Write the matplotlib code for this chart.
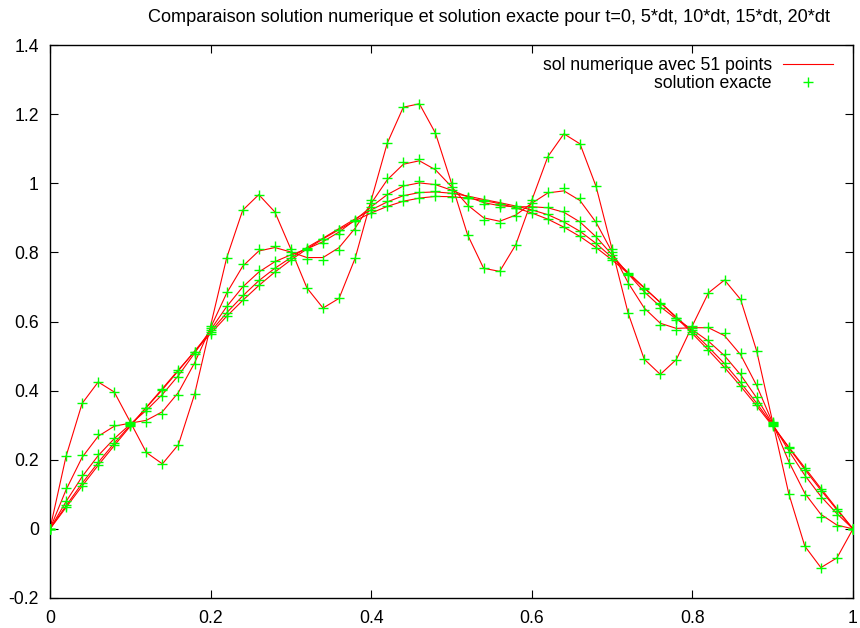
import numpy as np
import matplotlib
matplotlib.use("Agg")
import matplotlib.pyplot as plt

plt.rcParams['font.family'] = ['Liberation Sans', 'DejaVu Sans']

# 51 grid points on [0, 1]
x = np.linspace(0.0, 1.0, 51)

# numerical solution (red lines) for t = 0, 5dt, 10dt, 15dt, 20dt
num_t0 = [0, .210, .363, .425, .396, .309, .221, .188, .244, .389, .588, .784, .922, .967, .917, .809, .697, .639, .667, .783,
          .951, 1.116, 1.220, 1.230, 1.145, 1.000, .851, .754, .745, .822, .951, 1.077, 1.143, 1.114, .991, .809, .624, .491, .447, .490,
          .588, .683, .720, .664, .515, .309, .102, -.050, -.112, -.084, 0]
num_t5 = [0, .113, .207, .268, .297, .306, .314, .339, .395, .480, .582, .682, .760, .804, .814, .801, .785, .785, .814, .870,
          .942, 1.010, 1.055, 1.065, 1.039, .990, .937, .900, .890, .908, .942, .972, .978, .950, .887, .801, .712, .639, .595, .580,
          .582, .582, .559, .504, .415, .306, .195, .103, .042, .011, 0]
num_t10 = [0, .079, .151, .212, .261, .303, .343, .389, .444, .508, .576, .643, .700, .743, .773, .793, .810, .831, .859, .894,
           .932, .967, .992, 1.001, .996, .980, .961, .944, .935, .932, .932, .929, .916, .888, .845, .793, .738, .686, .643, .607,
           .576, .543, .501, .446, .379, .303, .226, .155, .094, .044, 0]
num_t15 = [0, .067, .132, .192, .248, .300, .351, .403, .458, .514, .571, .625, .674, .718, .754, .785, .814, .841, .869, .897,
           .923, .946, .964, .973, .975, .971, .963, .953, .944, .934, .923, .909, .888, .861, .826, .785, .742, .698, .655, .613,
           .571, .526, .478, .423, .364, .300, .235, .172, .112, .055, 0]
num_t20 = [0, .062, .124, .184, .241, .297, .352, .406, .460, .513, .565, .615, .661, .704, .743, .778, .810, .839, .866, .892,
           .914, .933, .948, .957, .962, .961, .957, .950, .941, .929, .914, .896, .873, .846, .814, .778, .739, .697, .655, .611,
           .565, .517, .467, .413, .356, .297, .237, .177, .117, .058, 0]

# exact solution (green crosses)
ex_t0 = list(num_t0)
ex_t5 = [0, .117, .213, .274, .301, .306, .310, .333, .388, .476, .582, .686, .766, .810, .818, .801, .781, .779, .807, .866,
         .942, 1.014, 1.061, 1.071, 1.043, .990, .933, .894, .884, .904, .942, .975, .985, .956, .891, .801, .708, .633, .589, .576,
         .582, .585, .566, .510, .419, .306, .191, .097, .035, .007, 0]
ex_t10 = [0, .082, .156, .217, .264, .303, .341, .384, .439, .505, .576, .645, .704, .748, .776, .793, .807, .826, .854, .891,
          .932, .970, .996, 1.006, .999, .980, .958, .940, .930, .929, .932, .932, .920, .892, .848, .793, .735, .682, .638, .605,
          .576, .546, .505, .450, .381, .303, .223, .151, .090, .041, 0]
ex_t15 = [0, .069, .134, .194, .249, .300, .350, .401, .455, .513, .571, .626, .677, .720, .756, .785, .812, .838, .866, .895,
          .923, .948, .966, .975, .977, .971, .961, .951, .941, .933, .923, .910, .891, .863, .827, .785, .740, .695, .652, .611,
          .571, .528, .480, .426, .365, .300, .234, .170, .109, .053, 0]
ex_t20 = [0, .063, .125, .185, .242, .297, .351, .405, .459, .512, .565, .616, .663, .705, .744, .778, .809, .838, .865, .891,
          .914, .934, .949, .958, .962, .961, .957, .949, .940, .928, .914, .897, .874, .847, .814, .778, .738, .696, .653, .610,
          .565, .518, .468, .414, .357, .297, .236, .176, .116, .058, 0]

numeric = [num_t0, num_t5, num_t10, num_t15, num_t20]
exact = [ex_t0, ex_t5, ex_t10, ex_t15, ex_t20]

xticks = [0, 0.2, 0.4, 0.6, 0.8, 1]
xticklabels = ["0", "0.2", "0.4", "0.6", "0.8", "1"]
yticks = [-0.2, 0, 0.2, 0.4, 0.6, 0.8, 1, 1.2, 1.4]
yticklabels = ["-0.2", "0", "0.2", "0.4", "0.6", "0.8", "1", "1.2", "1.4"]

title = "Comparaison solution numerique et solution exacte pour t=0, 5*dt, 10*dt, 15*dt, 20*dt"
label_num = "sol numerique avec 51 points"
label_ex = "solution exacte"

W, H = 860, 628
fig = plt.figure(figsize=(W / 100, H / 100), dpi=100)
L, R, T, B = 50, 853, 45, 598
ax = fig.add_axes([L / W, 1 - B / H, (R - L) / W, (B - T) / H])

fs = 12.7
fpx = fs * 100 / 72
for k, yn in enumerate(numeric):
    ax.plot(x, yn, color='#ff0000', lw=0.8, zorder=2,
            label=label_num if k == 0 else None)
for k, ye in enumerate(exact):
    ax.plot(x, ye, linestyle='none', marker='+', color='#00ff00', ms=7.8, mew=1.0, zorder=3,
            label=label_ex if k == 0 else None)

ax.set_xlim(0, 1)
ax.set_ylim(-0.2, 1.4)
ax.set_xticks(xticks)
ax.set_xticklabels(xticklabels)
ax.set_yticks(yticks)
ax.set_yticklabels(yticklabels)
ax.tick_params(direction='in', length=6, width=0.8, top=True, right=True,
               labelsize=fs, colors='black')
ax.tick_params(axis='x', pad=8.5)
ax.tick_params(axis='y', pad=8)
for s in ax.spines.values():
    s.set_linewidth(1.0)
    s.set_color('black')

fig.text(489 / W, 1 - 17 / H, title, ha='center', va='center', fontsize=13.1)

leg = ax.legend(loc='upper right', bbox_to_anchor=((833 - L) / (R - L), (B - 57) / (B - T)),
                frameon=False, markerfirst=False, fontsize=fs, borderpad=0, borderaxespad=0,
                handlelength=50 / fpx, handletextpad=11 / fpx, labelspacing=0.07)

fig.savefig("out.png", dpi=100)
